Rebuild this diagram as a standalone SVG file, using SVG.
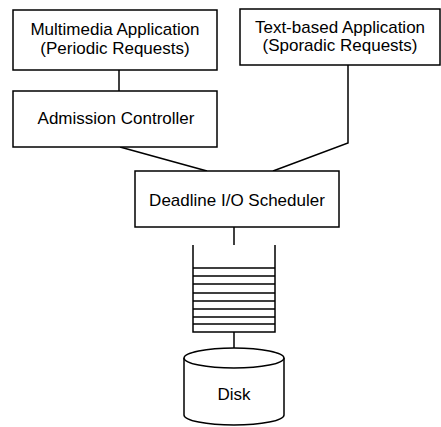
<svg xmlns="http://www.w3.org/2000/svg" width="441" height="427" viewBox="0 0 441 427">
<style>
.box{fill:#fff;stroke:#000;stroke-width:1.5}
.ln{fill:none;stroke:#000;stroke-width:1.5}
.q{fill:none;stroke:#000;stroke-width:1.3}
text{font-family:"Liberation Sans",Arial,sans-serif;font-size:17px;fill:#000;text-anchor:middle}
</style>
<rect width="441" height="427" fill="#fff"/>
<g id="connectors">
<line class="ln" x1="119" y1="70" x2="119" y2="91"/>
<polyline class="ln" points="120,147 207,171"/>
<polyline class="ln" points="348,65 348,143 273,171"/>
<line class="ln" x1="234" y1="227" x2="234" y2="245"/>
<line class="ln" x1="234" y1="332" x2="234" y2="349"/>
</g>
<g id="multimedia">
<rect class="box" x="13" y="10" width="204" height="60"/>
<text x="115" y="35">Multimedia Application</text>
<text x="115" y="54">(Periodic Requests)</text>
</g>
<g id="textbased">
<rect class="box" x="240" y="9" width="200" height="56"/>
<text x="340" y="33">Text-based Application</text>
<text x="340" y="51">(Sporadic Requests)</text>
</g>
<g id="admission">
<rect class="box" x="13" y="91" width="204" height="56"/>
<text x="116" y="124">Admission Controller</text>
</g>
<g id="scheduler">
<rect class="box" x="135" y="171" width="204" height="56"/>
<text x="237" y="206">Deadline I/O Scheduler</text>
</g>
<g id="queue">
<polyline class="ln" points="193,245 193,332 275,332 275,245"/>
<path class="q" d="M193 268H275M193 276H275M193 284H275M193 293H275M193 301H275M193 309H275M193 317H275M193 324H275"/>
</g>
<g id="disk">
<path class="box" d="M184 358V415A50 10 0 0 0 284 415V358"/>
<ellipse class="box" cx="234" cy="358" rx="50" ry="10"/>
<text x="234" y="400">Disk</text>
</g>
</svg>
